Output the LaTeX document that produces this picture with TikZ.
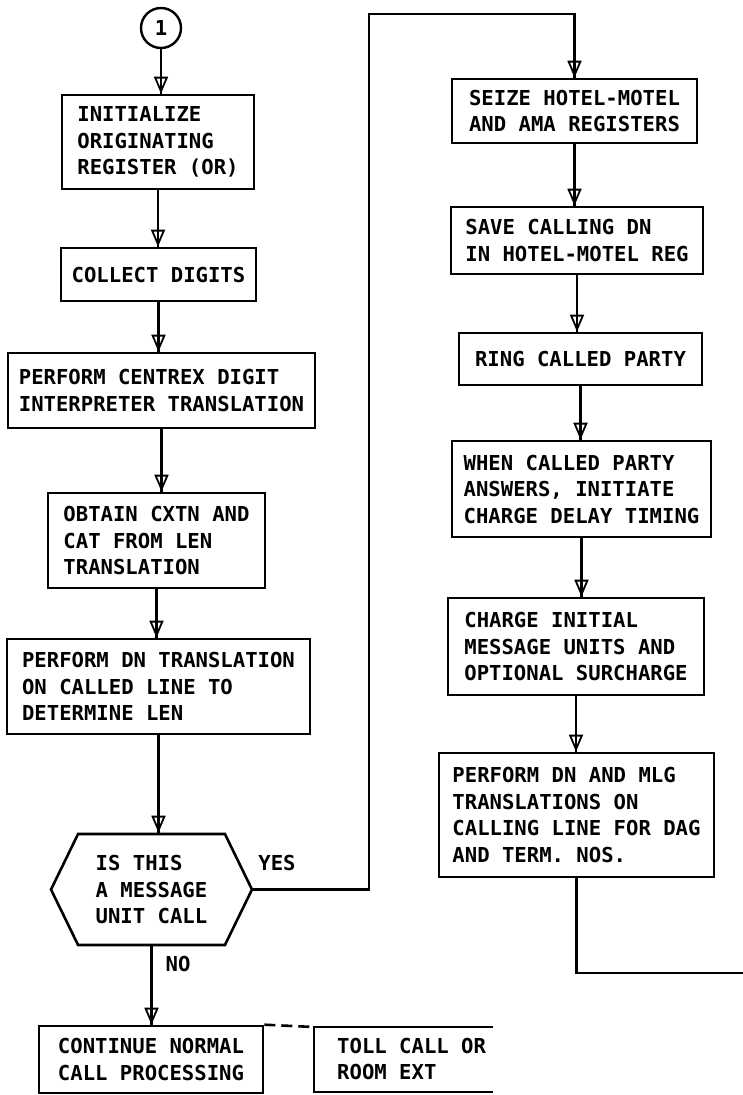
\documentclass[tikz,border=0pt]{standalone}
\usepackage{fontspec}
\setmonofont{DejaVu Sans Mono}
\usetikzlibrary{arrows.meta,shapes.symbols}

\begin{document}
\begin{tikzpicture}[x=1pt,y=-1pt,
    font=\ttfamily\bfseries\fontsize{20.6}{26.5}\selectfont,
    box/.style={draw, line width=2.6pt, align=left, inner sep=0pt},
    flow/.style={line width=2.4pt, -{Triangle[open,length=17pt,width=14pt,line width=1.8pt]}, postaction={draw,-}}]
    \useasboundingbox (0,0) rectangle (743,1095);
    % left column
    \node[draw, circle, line width=2.4pt, minimum size=40pt, inner sep=0pt] (one) at (161,28) {1};
    \node[box, minimum width=192pt, minimum height=94pt] (init) at (158,142) {INITIALIZE\\ORIGINATING\\REGISTER (OR)};
    \node[box, minimum width=195pt, minimum height=53pt] (digits) at (158.5,274.5) {COLLECT DIGITS};
    \node[box, minimum width=307pt, minimum height=75pt] (centrex) at (161.5,390.5) {PERFORM CENTREX DIGIT\\INTERPRETER TRANSLATION};
    \node[box, minimum width=217pt, minimum height=95pt] (cxtn) at (156.5,540.5) {OBTAIN CXTN AND\\CAT FROM LEN\\TRANSLATION};
    \node[box, minimum width=303pt, minimum height=95pt] (dnlen) at (158.5,686.5) {PERFORM DN TRANSLATION\\ON CALLED LINE TO\\DETERMINE LEN};
    \node[box, signal, signal to=west and east, signal pointer angle=128, minimum width=201pt, minimum height=111pt] (msg) at (151.5,889.5) {IS THIS\\A MESSAGE\\UNIT CALL};
    \node[box, minimum width=224pt, minimum height=67pt] (cont) at (151,1059.5) {CONTINUE NORMAL\\CALL PROCESSING};
    \node (yes) at (277,863) {YES};
    \node (no) at (178,964) {NO};
    % open box at the bottom
    \coordinate (tollnw) at (314,1027);
    \node[align=left, inner sep=0pt, anchor=west] (toll) at (337,1059) {TOLL CALL OR\\ROOM EXT};
    \draw[line width=2.6pt] (493,1027) -- (tollnw) -- (314,1092) -- (493,1092);
    % right column
    \node[box, minimum width=245pt, minimum height=64pt] (seize) at (574.5,111) {SEIZE HOTEL-MOTEL\\AND AMA REGISTERS};
    \node[box, minimum width=252pt, minimum height=67pt] (save) at (577,240.5) {SAVE CALLING DN\\IN HOTEL-MOTEL REG};
    \node[box, minimum width=243pt, minimum height=52pt] (ring) at (580.5,359) {RING CALLED PARTY};
    \node[box, minimum width=259pt, minimum height=96pt] (answer) at (581.5,489) {WHEN CALLED PARTY\\ANSWERS, INITIATE\\CHARGE DELAY TIMING};
    \node[box, minimum width=256pt, minimum height=97pt] (charge) at (576,646.5) {CHARGE INITIAL\\MESSAGE UNITS AND\\OPTIONAL SURCHARGE};
    \node[box, minimum width=275pt, minimum height=124pt] (mlg) at (576.5,815) {PERFORM DN AND MLG\\TRANSLATIONS ON\\CALLING LINE FOR DAG\\AND TERM. NOS.};
    \coordinate (yesup) at (369,14);
    \coordinate (exitr) at (743,973);
    % connectors
    \draw[flow] (one) -- (one |- init.north);
    \draw[flow] (init.south) -- (init.south |- digits.north);
    \draw[flow] (digits.south) -- (digits.south |- centrex.north);
    \draw[flow] (centrex.south) -- (centrex.south |- cxtn.north);
    \draw[flow] (cxtn.south) -- (cxtn.south |- dnlen.north);
    \draw[flow] (dnlen.south) -- (dnlen.south |- msg.north);
    \draw[flow] (msg.south) -- (msg.south |- cont.north);
    \draw[line width=2.6pt, dash pattern=on 11pt off 6pt] (cont.north east) -- (tollnw);
    \draw[flow] (msg.east) -| (yesup) -| (seize.north);
    \draw[flow] (seize.south) -- (seize.south |- save.north);
    \draw[flow] (save.south) -- (save.south |- ring.north);
    \draw[flow] (ring.south) -- (ring.south |- answer.north);
    \draw[flow] (answer.south) -- (answer.south |- charge.north);
    \draw[flow] (charge.south) -- (charge.south |- mlg.north);
    \draw[line width=2.4pt] (mlg.south) |- (exitr);
\end{tikzpicture}
\end{document}
